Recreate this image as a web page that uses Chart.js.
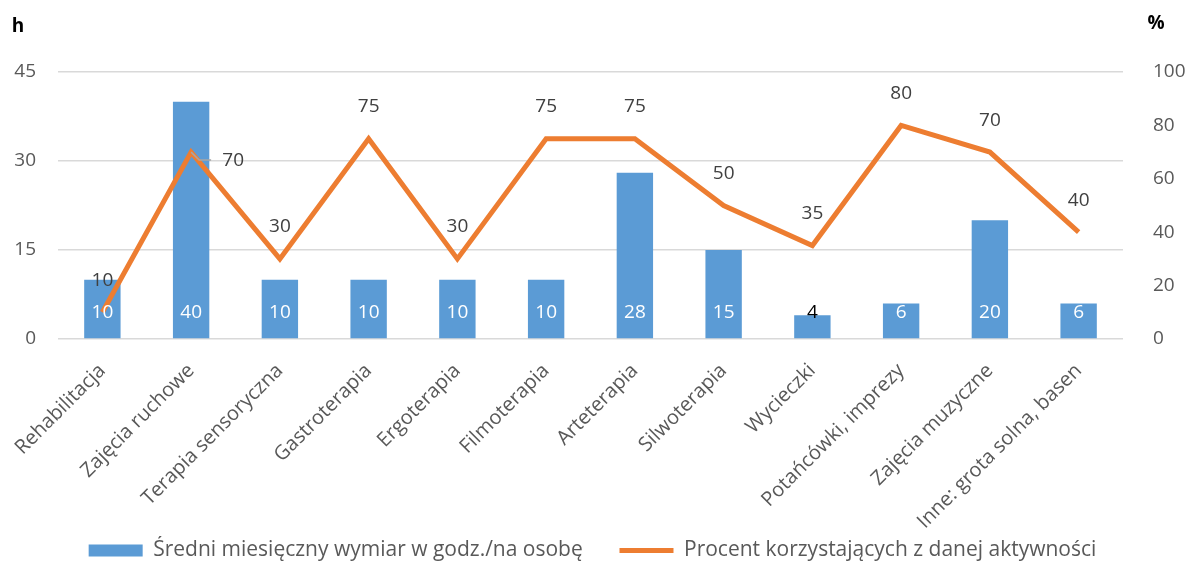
<!DOCTYPE html>
<html lang="pl">
<head>
<meta charset="utf-8" />
<title>Zajęcia</title>
<script src="https://cdn.jsdelivr.net/npm/chart.js@4.4.1/dist/chart.umd.min.js"></script>
<style>
  html, body { margin: 0; padding: 0; background: #fff; }
  .wrap { width: 1185px; height: 563px; position: relative; }
</style>
</head>
<body>
<div class="wrap"><canvas id="chart"></canvas></div>
<script>
// data
const categories = [
  "Rehabilitacja", "Zajęcia ruchowe", "Terapia sensoryczna", "Gastroterapia",
  "Ergoterapia", "Filmoterapia", "Arteterapia", "Silwoterapia", "Wycieczki",
  "Potańcówki, imprezy", "Zajęcia muzyczne", "Inne: grota solna, basen"
];
const hoursPerPerson = [10, 40, 10, 10, 10, 10, 28, 15, 4, 6, 20, 6];
const percentUsing = [10, 70, 30, 75, 30, 75, 75, 50, 35, 80, 70, 40];
const hoursTicks = [0, 15, 30, 45];
const percentTicks = [0, 20, 40, 60, 80, 100];

const seriesNames = [
  "Średni miesięczny wymiar w godz./na osobę",
  "Procent korzystających z danej aktywności"
];

const FONT = "'Open Sans', 'DejaVu Sans', sans-serif";
const BLUE = "#5B9BD5";
const ORANGE = "#ED7D31";

// value labels + axis unit captions
const labelPlugin = {
  id: "labels",
  afterDatasetsDraw(chart) {
    const ctx = chart.ctx;
    ctx.save();
    ctx.font = "19px " + FONT;
    ctx.textAlign = "center";
    ctx.textBaseline = "middle";

    const bars = chart.getDatasetMeta(1).data;
    bars.forEach((el, i) => {
      const v = hoursPerPerson[i];
      ctx.fillStyle = v < 5 ? "#000" : "#fff";
      ctx.fillText(String(v), el.x, el.base - 26);
    });

    const pts = chart.getDatasetMeta(0).data;
    pts.forEach((el, i) => {
      const v = percentUsing[i];
      ctx.fillStyle = "#404040";
      if (i === 1) {
        ctx.strokeStyle = "#a6a6a6";
        ctx.lineWidth = 1.5;
        ctx.beginPath();
        ctx.moveTo(el.x, el.y);
        ctx.lineTo(el.x + 8, el.y + 8);
        ctx.lineTo(el.x + 20, el.y + 8);
        ctx.stroke();
        ctx.fillText(String(v), el.x + 42, el.y + 8);
      } else {
        ctx.fillText(String(v), el.x, el.y - 32);
      }
    });

    ctx.font = "bold 19px " + FONT;
    ctx.fillStyle = "#000";
    ctx.fillText("h", 18, 27);
    ctx.fillText("%", 1156, 24);
    ctx.restore();
  }
};

new Chart(document.getElementById("chart"), {
  data: {
    labels: categories,
    datasets: [
      {
        type: "line",
        label: seriesNames[1],
        data: percentUsing,
        yAxisID: "y1",
        borderColor: ORANGE,
        backgroundColor: ORANGE,
        borderWidth: 5,
        pointRadius: 0,
        tension: 0,
        pointStyle: "line",
        order: 0
      },
      {
        type: "bar",
        label: seriesNames[0],
        data: hoursPerPerson,
        yAxisID: "y",
        backgroundColor: BLUE,
        borderWidth: 0,
        barPercentage: 0.41,
        categoryPercentage: 1,
        pointStyle: "rect",
        order: 1
      }
    ]
  },
  options: {
    responsive: true,
    maintainAspectRatio: false,
    animation: false,
    layout: { padding: { top: 72, left: 0, right: 0, bottom: -8 } },
    plugins: {
      legend: {
        position: "bottom",
        labels: {
          sort: (a, b) => b.datasetIndex - a.datasetIndex,
          generateLabels: (chart) => {
            const items = Chart.defaults.plugins.legend.labels.generateLabels(chart);
            // extra room after the first entry, like the original
            items.forEach((it) => { if (it.datasetIndex === 1) it.text += "      "; });
            return items;
          },
          usePointStyle: true,
          pointStyleWidth: 54,
          boxHeight: 12,
          padding: 4,
          color: "#595959",
          font: { family: FONT, size: 21 }
        }
      },
      tooltip: { enabled: false }
    },
    scales: {
      x: {
        afterFit: (s) => { s.height = 197; },
        grid: { display: false },
        border: { display: false },
        ticks: {
          color: "#595959",
          font: { family: FONT, size: 20 },
          maxRotation: 45,
          minRotation: 45,
          autoSkip: false,
          padding: 12
        }
      },
      y: {
        position: "left",
        min: 0,
        max: hoursTicks[hoursTicks.length - 1],
        afterBuildTicks: (s) => { s.ticks = hoursTicks.map((v) => ({ value: v })); },
        afterFit: (s) => { s.width = 58; },
        grid: { color: "#d9d9d9", lineWidth: 1.5, drawTicks: false },
        border: { display: false },
        ticks: {
          color: "#595959",
          font: { family: FONT, size: 19 },
          padding: 22
        }
      },
      y1: {
        position: "right",
        min: 0,
        max: percentTicks[percentTicks.length - 1],
        afterBuildTicks: (s) => { s.ticks = percentTicks.map((v) => ({ value: v })); },
        afterFit: (s) => { s.width = 62; },
        grid: { display: false, drawTicks: false },
        border: { display: false },
        ticks: {
          color: "#595959",
          font: { family: FONT, size: 19 },
          padding: 30
        }
      }
    }
  },
  plugins: [labelPlugin]
});
</script>
</body>
</html>
